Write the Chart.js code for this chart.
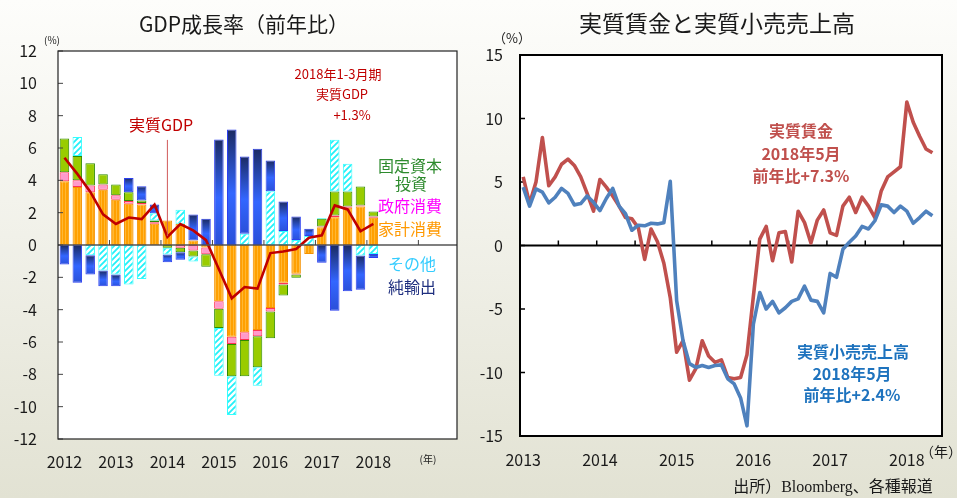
<!DOCTYPE html>
<html><head><meta charset="utf-8">
<script src="https://cdn.jsdelivr.net/npm/chart.js@4.4.1/dist/chart.umd.min.js"></script>
<style>
html,body{margin:0;padding:0;}
body{width:957px;height:498px;position:relative;overflow:hidden;
 background:linear-gradient(to bottom,#fdfdfb 0%,#f3f3ec 40%,#e2e2d3 100%);
 font-family:"Noto Sans CJK JP","Noto Sans",sans-serif;color:#1a1a1a;}
canvas{position:absolute;top:0;}
#c1{left:0;width:478px;height:498px;}
#c2{left:478px;width:479px;height:498px;}
.t{position:absolute;white-space:nowrap;transform:translate(-50%,-50%);line-height:1;z-index:2;}
.b{font-weight:bold;}
</style></head><body>
<canvas id="c1" width="478" height="498"></canvas>
<canvas id="c2" width="479" height="498"></canvas>

<div class="t" style="left:244px;top:23px;font-size:21px;">GDP成長率（前年比）</div>
<div class="t" style="left:717px;top:22px;font-size:23px;">実質賃金と実質小売売上高</div>
<div class="t" style="left:52px;top:40px;font-size:10px;">(%)</div>
<div class="t" style="left:512px;top:37px;font-size:13px;">（%）</div>
<div class="t" style="left:428px;top:459px;font-size:10px;">(年)</div>
<div class="t" style="left:941px;top:451px;font-size:14px;">（年）</div>
<div class="t" style="left:833px;top:487px;font-size:16px;font-family:'Liberation Serif','Noto Sans CJK JP',serif;">出所）Bloomberg、各種報道</div>

<div class="t" style="left:161px;top:124px;font-size:16px;color:#C00000;">実質GDP</div>
<div class="t" style="left:338px;top:73px;font-size:13px;color:#C00000;">2018年1-3月期</div>
<div class="t" style="left:342px;top:93px;font-size:13px;color:#C00000;">実質GDP</div>
<div class="t" style="left:352px;top:114px;font-size:13px;color:#C00000;">+1.3%</div>

<div class="t" style="left:410px;top:165px;font-size:16px;color:#2E8B2E;">固定資本</div>
<div class="t" style="left:411px;top:183px;font-size:16px;color:#2E8B2E;">投資</div>
<div class="t" style="left:410px;top:205px;font-size:16px;color:#FF00FF;">政府消費</div>
<div class="t" style="left:410px;top:228px;font-size:16px;color:#FF9900;">家計消費</div>
<div class="t" style="left:412px;top:263px;font-size:16px;color:#33CCFF;">その他</div>
<div class="t" style="left:412px;top:286px;font-size:16px;color:#1F2F7F;">純輸出</div>

<div class="t b" style="left:801px;top:130px;font-size:16px;color:#C0504D;">実質賃金</div>
<div class="t b" style="left:801px;top:153px;font-size:16px;color:#C0504D;">2018年5月</div>
<div class="t b" style="left:801px;top:175px;font-size:16px;color:#C0504D;">前年比+7.3%</div>
<div class="t b" style="left:853px;top:351px;font-size:16px;color:#1E73BE;">実質小売売上高</div>
<div class="t b" style="left:852px;top:373px;font-size:16px;color:#1E73BE;">2018年5月</div>
<div class="t b" style="left:852px;top:394px;font-size:16px;color:#1E73BE;">前年比+2.4%</div>

<script>
// ---------- Left chart data: GDP growth contributions (YoY, %), 2012Q1 - 2018Q1 ----------
const gdpYears = ['2012','2013','2014','2015','2016','2017','2018','2019'];
const household  = [3.95,3.58,3.27,3.42,2.80,2.55,2.50,1.31,1.52,1.31,0.28,-0.15,-3.48,-5.67,-5.40,-5.25,-3.89,-2.34,-1.78,-0.55,1.10,1.72,2.30,2.38,1.68];
const government = [0.55,0.42,0.41,0.33,0.27,0.17,0.10,0.10,0.00,-0.17,-0.34,-0.42,-0.47,-0.45,-0.47,-0.39,-0.23,-0.10,-0.05,0.00,0.05,0.10,0.08,0.06,0.08];
const investment = [2.08,1.50,1.37,0.62,0.68,0.55,0.15,0.10,-0.17,-0.28,-0.37,-0.78,-1.18,-2.00,-2.25,-1.92,-1.65,-0.68,-0.20,0.00,0.47,1.49,0.93,1.18,0.31];
const other      = [0.00,1.18,-0.63,-1.58,-1.83,-2.45,-2.10,0.46,-0.42,0.87,-0.31,0.00,-2.95,-2.40,0.69,-1.14,3.33,0.86,0.31,0.55,0.05,3.20,1.72,-0.65,-0.55];
const netExports = [-1.20,-2.34,-1.20,-0.97,-0.72,0.87,0.88,0.53,-0.47,-0.47,1.61,1.62,6.53,7.15,4.79,5.96,1.90,1.83,1.45,0.45,-1.10,-4.06,-2.86,-2.12,-0.25];
const realGDP    = [5.4,4.4,3.3,1.9,1.3,1.7,1.6,2.5,0.5,1.3,0.9,0.3,-1.5,-3.3,-2.6,-2.7,-0.5,-0.4,-0.25,0.45,0.6,2.45,2.2,0.85,1.3];
const gdpYTicks = [-12,-10,-8,-6,-4,-2,0,2,4,6,8,10,12];

// ---------- Right chart data: monthly YoY (%), Jan 2013 - May 2018 ----------
const monthYears = ['2013','2014','2015','2016','2017','2018'];
const realWages = [5.4,3.3,5.0,8.5,4.7,5.4,6.4,6.8,6.3,5.4,4.1,2.7,
                   5.2,4.6,3.9,3.1,2.2,2.1,1.4,-1.1,1.3,0.3,-1.4,-4.1,
                   -8.4,-7.5,-10.6,-9.7,-7.5,-8.7,-9.2,-9.0,-10.4,-10.5,-10.4,-8.6,
                   -4.0,0.5,1.5,-1.2,1.0,1.1,-1.3,2.7,1.8,0.2,2.0,2.8,
                   1.0,0.8,3.1,3.8,2.6,3.8,3.1,2.2,4.3,5.4,5.8,6.2,
                   11.3,9.7,8.6,7.6,7.3];
const realRetail = [4.6,3.1,4.45,4.2,3.35,3.8,4.5,4.1,3.2,3.3,3.9,3.4,
                    2.75,3.7,4.5,3.1,2.5,1.2,1.6,1.55,1.75,1.7,1.8,5.05,
                    -4.35,-7.5,-9.3,-9.6,-9.45,-9.6,-9.45,-9.4,-10.5,-10.9,-12.0,-14.2,
                    -6.2,-3.7,-5.0,-4.4,-5.3,-4.9,-4.4,-4.2,-3.2,-4.3,-4.4,-5.3,
                    -2.2,-2.5,-0.3,0.25,0.75,1.5,1.3,1.95,3.2,3.1,2.6,3.1,
                    2.7,1.75,2.2,2.7,2.35];

// categories
const quarters = [];
for (let i = 0; i < 31; i++) quarters.push(gdpYears[Math.floor(i/4)] + 'Q' + (i%4+1));
const months = [];
for (let i = 0; i < 66; i++) months.push(monthYears[Math.floor(i/12)] + '-' + String(i%12+1).padStart(2,'0'));

// ---------- patterns ----------
function mkPattern(w, h, draw) {
  const c = document.createElement('canvas'); c.width = w; c.height = h;
  const g = c.getContext('2d'); draw(g, w, h);
  return g.createPattern(c, 'repeat');
}
const orangePat = mkPattern(3, 4, (g) => {
  g.fillStyle = '#FFA000'; g.fillRect(0,0,3,4);
  g.fillStyle = '#FFB733'; g.fillRect(2,0,1,4);
});
const hatchPat = mkPattern(6, 6, (g) => {
  g.fillStyle = '#ffffff'; g.fillRect(0,0,6,6);
  g.strokeStyle = '#22F0F8'; g.lineWidth = 1.8;
  g.beginPath();
  g.moveTo(-1,7); g.lineTo(7,-1);
  g.moveTo(-4,4); g.lineTo(4,-4);
  g.moveTo(2,10); g.lineTo(10,2);
  g.stroke();
});

function blueFill(ctx) {
  const chart = ctx.chart, y = chart.scales && chart.scales.y;
  if (!y || ctx.type !== 'data') return '#2f5fff';
  const i = ctx.dataIndex, v = netExports[i];
  if (v === undefined) return '#2f5fff';
  let base = 0;
  [household, government, investment, other].forEach(a => {
    const w = a[i];
    if ((v >= 0 && w > 0) || (v < 0 && w < 0)) base += w;
  });
  const p1 = y.getPixelForValue(base), p2 = y.getPixelForValue(base + v);
  if (!isFinite(p1) || !isFinite(p2)) return '#2f5fff';
  const top = Math.min(p1, p2), bot = Math.max(p1, p2) + 0.5;
  const g = chart.ctx.createLinearGradient(0, top, 0, bot);
  g.addColorStop(0, '#1B2A62');
  g.addColorStop(0.55, '#3366FF');
  g.addColorStop(1, '#2A4FD8');
  return g;
}

// ---------- frame plugin ----------
const frame = {
  id: 'frame',
  beforeDatasetsDraw(chart, args, o) {
    const {ctx, chartArea: a} = chart;
    ctx.save();
    ctx.fillStyle = '#ffffff';
    ctx.fillRect(a.left, a.top, a.width, a.height);
    ctx.restore();
    if (!o.axisOver) drawAxes(chart, o);
  },
  afterDatasetsDraw(chart, args, o) {
    const {ctx, chartArea: a} = chart;
    if (o.axisOver) drawAxes(chart, o);
    if (o.pointer) {
      const x = chart.scales.x.getPixelForValue(o.pointer.index);
      ctx.save();
      ctx.strokeStyle = o.pointer.color; ctx.lineWidth = 1;
      ctx.beginPath();
      ctx.moveTo(x, chart.scales.y.getPixelForValue(o.pointer.from));
      ctx.lineTo(x, chart.scales.y.getPixelForValue(o.pointer.to));
      ctx.stroke(); ctx.restore();
    }
    ctx.save();
    ctx.strokeStyle = o.borderColor; ctx.lineWidth = o.borderWidth;
    ctx.strokeRect(a.left, a.top, a.width, a.height);
    ctx.restore();
  }
};
function drawAxes(chart, o) {
  const {ctx, chartArea: a, scales: {x, y}} = chart;
  const y0 = y.getPixelForValue(0);
  ctx.save();
  ctx.strokeStyle = o.axisColor; ctx.lineWidth = o.axisWidth;
  ctx.beginPath(); ctx.moveTo(a.left, y0); ctx.lineTo(a.right, y0); ctx.stroke();
  ctx.lineWidth = o.tickWidth; ctx.strokeStyle = o.tickColor;
  ctx.beginPath();
  for (let i = o.tickEvery; i < x.getLabels().length; i += o.tickEvery) {
    const px = (x.getPixelForValue(i - 1) + x.getPixelForValue(i)) / 2;
    ctx.moveTo(px, y0); ctx.lineTo(px, y0 - 5);
  }
  y.ticks.forEach(t => {
    const py = y.getPixelForValue(t.value);
    ctx.moveTo(a.left, py); ctx.lineTo(a.left + 5, py);
  });
  ctx.stroke();
  ctx.restore();
}

const tickFont = {family: "'Noto Sans CJK JP','Noto Sans',sans-serif", size: 16};

// ---------- left chart ----------
const barCommon = {type: 'bar', stack: 'c', order: 2, borderWidth: 1, borderSkipped: false,
                   barPercentage: 0.74, categoryPercentage: 1};
new Chart(document.getElementById('c1'), {
  data: {
    labels: quarters,
    datasets: [
      Object.assign({label: '家計消費', data: household, backgroundColor: orangePat, borderColor: '#F59100'}, barCommon),
      Object.assign({label: '政府消費', data: government, backgroundColor: '#FF99CC', borderColor: '#FF3355'}, barCommon),
      Object.assign({label: '固定資本投資', data: investment, backgroundColor: '#99CC00', borderColor: '#2E8B00'}, barCommon),
      Object.assign({label: 'その他', data: other, backgroundColor: hatchPat, borderColor: '#33FFFF'}, barCommon),
      Object.assign({label: '純輸出', data: netExports, backgroundColor: blueFill, borderColor: '#2B3FF0'}, barCommon),
      {type: 'line', label: '実質GDP', data: realGDP, stack: 'g', order: 0, borderColor: '#C00000',
       borderWidth: 2.6, pointRadius: 0, tension: 0, fill: false}
    ]
  },
  options: {
    responsive: false, animation: false, events: [],
    layout: {padding: {top: 51, right: 21, left: 0, bottom: 0}},
    plugins: {legend: {display: false}, tooltip: {enabled: false},
      frame: {axisOver: true, axisColor: '#555555', axisWidth: 1.6, tickColor: '#444444', tickWidth: 1,
              tickEvery: 4, borderColor: '#222222', borderWidth: 1.2,
              pointer: {index: 8, from: 6.5, to: 0.55, color: '#D05A5A'}}},
    scales: {
      x: {type: 'category', stacked: true, offset: true,
          grid: {display: false, drawTicks: false}, border: {display: false},
          ticks: {autoSkip: false, maxRotation: 0, padding: 13, color: '#1a1a1a', font: tickFont,
                  callback: (v, i) => (i % 4 === 0 && i < 28) ? gdpYears[i / 4] : ''},
          afterFit: s => { s.height = 59; }},
      y: {type: 'linear', stacked: true, min: -12, max: 12,
          grid: {display: false, drawTicks: false}, border: {display: false},
          afterBuildTicks: s => { s.ticks = gdpYTicks.map(v => ({value: v})); },
          ticks: {padding: 21, color: '#1a1a1a', font: tickFont},
          afterFit: s => { s.width = 58; }}
    }
  },
  plugins: [frame]
});

// ---------- right chart ----------
new Chart(document.getElementById('c2'), {
  type: 'line',
  data: {
    labels: months,
    datasets: [
      {label: '実質小売売上高', data: realRetail, borderColor: '#4F81BD', borderWidth: 3.6,
       pointRadius: 0, tension: 0, fill: false, borderJoinStyle: 'round'},
      {label: '実質賃金', data: realWages, borderColor: '#C0504D', borderWidth: 3.6,
       pointRadius: 0, tension: 0, fill: false, borderJoinStyle: 'round'}
    ]
  },
  options: {
    responsive: false, animation: false, events: [],
    layout: {padding: {top: 55, right: 15, left: 0, bottom: 0}},
    plugins: {legend: {display: false}, tooltip: {enabled: false},
      frame: {axisOver: false, axisColor: '#000000', axisWidth: 2, tickColor: '#000000', tickWidth: 1.5,
              tickEvery: 6, borderColor: '#000000', borderWidth: 2}},
    scales: {
      x: {type: 'category', offset: true,
          grid: {display: false, drawTicks: false}, border: {display: false},
          ticks: {autoSkip: false, maxRotation: 0, padding: 14, color: '#1a1a1a', font: tickFont,
                  callback: (v, i) => (i % 12 === 0) ? monthYears[i / 12] : ''},
          afterFit: s => { s.height = 62; }},
      y: {type: 'linear', min: -15, max: 15,
          grid: {display: false, drawTicks: false}, border: {display: false},
          ticks: {stepSize: 5, padding: 17, color: '#1a1a1a', font: tickFont},
          afterFit: s => { s.width = 42; }}
    }
  },
  plugins: [frame]
});
</script>
</body></html>
